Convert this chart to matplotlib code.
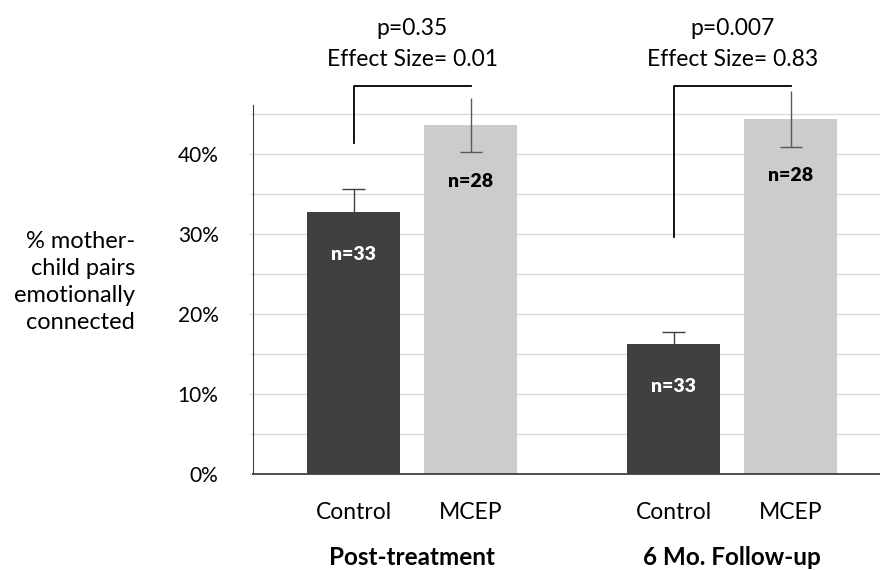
import matplotlib
matplotlib.use('Agg')
import matplotlib.pyplot as plt
import numpy as np

# values (percent)
groups = ['Post-treatment', '6 Mo. Follow-up']
conditions = ['Control', 'MCEP']
control_pct = [32.75, 16.25]
mcep_pct = [43.6, 44.4]
control_err = [2.85, 1.45]
mcep_err = [3.4, 3.5]
control_n = [33, 33]
mcep_n = [28, 28]
p_values = ['0.35', '0.007']
effect_sizes = ['0.01', '0.83']
bracket_bottom = [41.4, 29.6]

plt.rcParams['font.family'] = ['Lato', 'DejaVu Sans']

fig = plt.figure(figsize=(8.8, 5.7), dpi=100)
ax = fig.add_axes([0.2878, 0.1684, 0.7122, 0.6474])

x = np.arange(len(groups))
off = 0.183
w = 0.29
xc = x - off
xm = x + off

ax.bar(xc, control_pct, w, color='#404040', zorder=2)
ax.bar(xm, mcep_pct, w, color='#cccccc', zorder=2)

# error bars (caps as in the original: top cap on control, bottom cap on MCEP)
cw = 0.035
for i in range(len(groups)):
    ax.vlines(xc[i], control_pct[i] - control_err[i], control_pct[i] + control_err[i],
              color='#404040', lw=1, zorder=3)
    ax.hlines(control_pct[i] + control_err[i], xc[i] - cw, xc[i] + cw, color='#404040', lw=1, zorder=3)
    ax.vlines(xm[i], mcep_pct[i] - mcep_err[i], mcep_pct[i] + mcep_err[i],
              color='#595959', lw=1, zorder=3, clip_on=False)
    ax.hlines(mcep_pct[i] - mcep_err[i], xm[i] - cw, xm[i] + cw, color='#595959', lw=1, zorder=3)

    ax.text(xc[i], control_pct[i] - 5.3, 'n=%d' % control_n[i], color='white',
            ha='center', va='center', fontsize=14, fontweight='heavy', zorder=4)
    ax.text(xm[i], mcep_pct[i] - 7.1, 'n=%d' % mcep_n[i], color='black',
            ha='center', va='center', fontsize=14, fontweight='heavy', zorder=4)

    # significance bracket
    top = 48.5
    ax.plot([xc[i], xc[i], xm[i]], [bracket_bottom[i], top, top], color='black', lw=1.3,
            clip_on=False, zorder=3)
    mid = (xc[i] + xm[i]) / 2
    ax.text(mid, 55.7, 'p=' + p_values[i], ha='center', va='center', fontsize=16.5, clip_on=False)
    ax.text(mid, 51.8, 'Effect Size= ' + effect_sizes[i], ha='center', va='center',
            fontsize=16.5, clip_on=False)

    ax.text(x[i], -0.225, groups[i], transform=ax.get_xaxis_transform(), ha='center',
            va='center', fontsize=17.5, fontweight='bold')

ax.set_xlim(-0.4966, 1.4619)
ax.set_ylim(0, 46.1)

ax.set_yticks(np.arange(0, 41, 10))
ax.set_yticklabels(['%d%%' % v for v in range(0, 41, 10)])
ax.set_yticks(np.arange(5, 46, 10), minor=True)
ax.grid(True, axis='y', which='both', color='#d9d9d9', lw=1, zorder=0)
ax.tick_params(axis='y', which='both', length=3, color='#d9d9d9', pad=22, labelsize=15)

ax.set_xticks(list(xc) + list(xm))
ax.set_xticklabels([conditions[0]] * len(groups) + [conditions[1]] * len(groups))
ax.tick_params(axis='x', length=0, pad=20, labelsize=16.5)

for s in ['top', 'right']:
    ax.spines[s].set_visible(False)
ax.spines['left'].set_color('#404040')
ax.spines['bottom'].set_color('#404040')
ax.spines['bottom'].set_linewidth(1.3)

fig.text(135 / 880, 0.505, '% mother-\nchild pairs\nemotionally\nconnected', ha='right',
         va='center', fontsize=17, linespacing=1.35)

plt.savefig('out.png')
plt.close()
